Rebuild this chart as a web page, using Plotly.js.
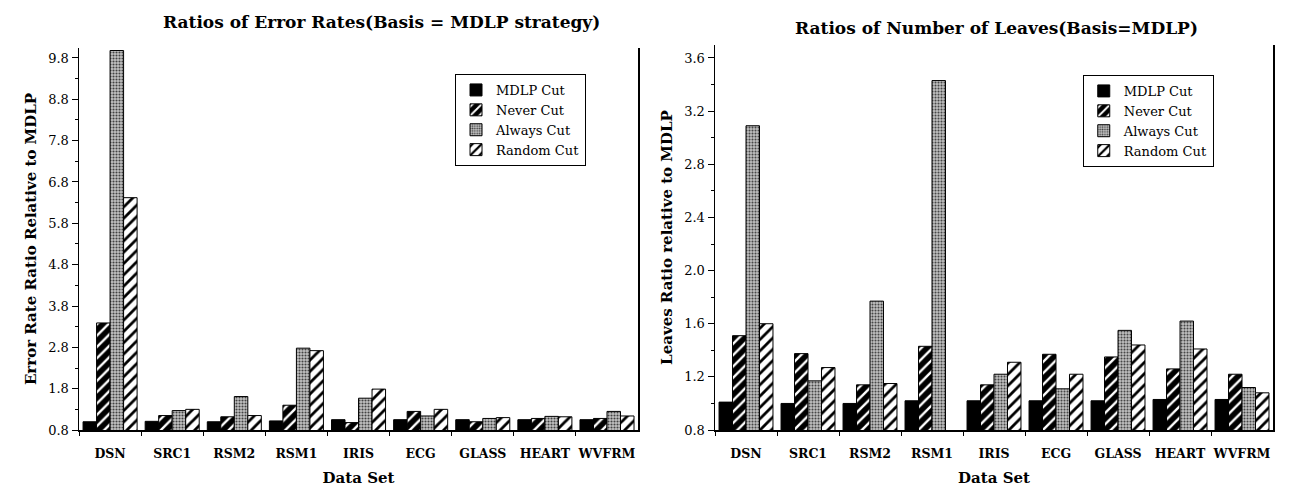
<!DOCTYPE html>
<html>
<head>
<meta charset="utf-8">
<script src="https://cdn.plot.ly/plotly-3.0.1.min.js"></script>
<style>html,body{margin:0;padding:0;background:#fff;}#chart{width:1289px;height:490px;}</style>
</head>
<body>
<div id="chart"></div>
<script>
// ---- data ----
const categories = ["DSN", "SRC1", "RSM2", "RSM1", "IRIS", "ECG", "GLASS", "HEART", "WVFRM"];
const seriesNames = ["MDLP Cut", "Never Cut", "Always Cut", "Random Cut"];

// Left: ratios of error rates
const errMDLP   = [1.0, 1.01, 1.0, 1.02, 1.05, 1.05, 1.05, 1.05, 1.05];
const errNever  = [3.39, 1.15, 1.12, 1.40, 0.98, 1.25, 1.0, 1.08, 1.08];
const errAlways = [9.98, 1.27, 1.61, 2.78, 1.57, 1.14, 1.08, 1.13, 1.25];
const errRandom = [6.42, 1.30, 1.15, 2.72, 1.79, 1.30, 1.10, 1.12, 1.14];

// Right: ratios of number of leaves
const leafMDLP   = [1.01, 1.0, 1.0, 1.02, 1.02, 1.02, 1.02, 1.03, 1.03];
const leafNever  = [1.51, 1.375, 1.14, 1.43, 1.14, 1.37, 1.35, 1.26, 1.22];
const leafAlways = [3.09, 1.17, 1.77, 3.43, 1.22, 1.11, 1.55, 1.62, 1.12];
const leafRandom = [1.60, 1.27, 1.15, null, 1.31, 1.22, 1.44, 1.41, 1.08];

const errTicks  = [0.8, 1.8, 2.8, 3.8, 4.8, 5.8, 6.8, 7.8, 8.8, 9.8];
const leafTicks = [0.8, 1.2, 1.6, 2.0, 2.4, 2.8, 3.2, 3.6];

// ---- styles ----
const FONT = "DejaVu Serif";
const styles = [
  {color: "#000000", pattern: {shape: ""}},
  {color: "#000000", pattern: {shape: "/", bgcolor: "#000000", fgcolor: "#ffffff", size: 8, solidity: 0.3, fillmode: "replace"}},
  {color: "#9a9a9a", pattern: {shape: ".", bgcolor: "#c4c4c4", fgcolor: "#404040", size: 3, solidity: 0.4, fillmode: "replace"}},
  {color: "#ffffff", pattern: {shape: "/", bgcolor: "#ffffff", fgcolor: "#000000", size: 8, solidity: 0.35, fillmode: "replace"}}
];

function mk(vals, i, xa, ya, leg) {
  return {
    type: "bar", x: categories, y: vals, name: seriesNames[i],
    xaxis: xa, yaxis: ya, legend: leg,
    marker: {color: styles[i].color, pattern: styles[i].pattern, line: {color: "#000", width: 1}}
  };
}

const leftSets = [errMDLP, errNever, errAlways, errRandom];
const rightSets = [leafMDLP, leafNever, leafAlways, leafRandom];
const data = [];
leftSets.forEach((v, i) => data.push(mk(v, i, "x", "y", "legend")));
rightSets.forEach((v, i) => data.push(mk(v, i, "x2", "y2", "legend2")));

const axFont = {family: FONT, size: 13, color: "#000"};
const boldTick = {family: FONT, size: 12.5, color: "#000", weight: "bold"};
const titleFont = {family: FONT, size: 15, color: "#000", weight: "bold"};

function xaxis(dom, anchor) {
  return {
    domain: dom, anchor: anchor, type: "category",
    showline: true, linecolor: "#000", linewidth: 1.5,
    ticks: "outside", tickson: "boundaries", ticklen: 4, tickcolor: "#000",
    tickangle: 0, ticklabelstandoff: 11,
    tickfont: boldTick, showgrid: false, zeroline: false,
    title: {text: "Data Set", font: titleFont, standoff: 13}
  };
}
function yaxis(dom, anchor, range, ticks, title) {
  return {
    domain: dom, anchor: anchor, range: range,
    tickvals: ticks, ticktext: ticks.map(t => t.toFixed(1)),
    showline: true, mirror: true, linecolor: "#000", linewidth: 1.5,
    ticks: "outside", ticklen: 6, tickcolor: "#000",
    minor: {ticks: "outside", ticklen: 3, tickcolor: "#000", dtick: (ticks[1] - ticks[0]) / 2, tick0: ticks[0]},
    tickfont: axFont, showgrid: false, zeroline: false,
    title: {text: title, font: titleFont, standoff: 8}
  };
}

const layout = {
  width: 1289, height: 490,
  margin: {l: 0, r: 0, t: 0, b: 0},
  paper_bgcolor: "#fff", plot_bgcolor: "#fff",
  barmode: "group", bargap: 0.13, bargroupgap: 0,
  font: {family: FONT, color: "#000"},
  xaxis: xaxis([0.0613, 0.4950], "y"),
  yaxis: yaxis([0.1224, 0.902], "x", [0.8, 10.04], errTicks, "Error Rate Ratio Relative to MDLP"),
  xaxis2: xaxis([0.5547, 0.9876], "y2"),
  yaxis2: yaxis([0.1224, 0.908], "x2", [0.8, 3.697], leafTicks, "Leaves Ratio relative to MDLP"),
  legend: {x: 0.353, y: 0.849, xanchor: "left", yanchor: "top", bgcolor: "#fff",
           bordercolor: "#000", borderwidth: 1, font: {family: FONT, size: 13, color: "#000"}, tracegroupgap: 0},
  legend2: {x: 0.840, y: 0.847, xanchor: "left", yanchor: "top", bgcolor: "#fff",
           bordercolor: "#000", borderwidth: 1, font: {family: FONT, size: 13, color: "#000"}, tracegroupgap: 0},
  annotations: [
    {text: "Ratios of Error Rates(Basis = MDLP strategy)", xref: "paper", yref: "paper",
     x: 381 / 1289, y: 1 - 22 / 490, xanchor: "center", yanchor: "middle", showarrow: false,
     font: {family: FONT, size: 17, color: "#000", weight: "bold"}},
    {text: "Ratios of Number of Leaves(Basis=MDLP)", xref: "paper", yref: "paper",
     x: 997 / 1289, y: 1 - 28 / 490, xanchor: "center", yanchor: "middle", showarrow: false,
     font: {family: FONT, size: 17, color: "#000", weight: "bold"}}
  ]
};

Plotly.newPlot("chart", data, layout, {displayModeBar: false, staticPlot: true});
</script>
</body>
</html>
